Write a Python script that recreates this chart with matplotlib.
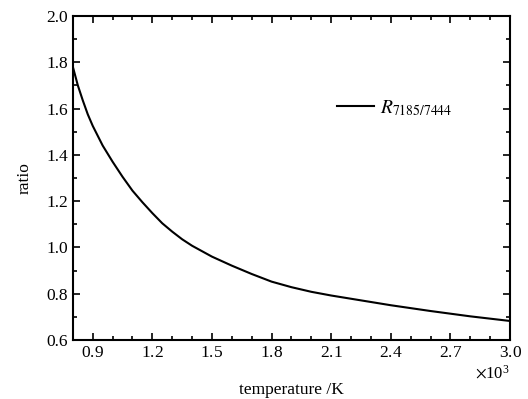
import matplotlib
matplotlib.use("Agg")
import matplotlib.pyplot as plt
from matplotlib.ticker import MultipleLocator, ScalarFormatter

plt.rcParams['font.family'] = ['Liberation Serif', 'DejaVu Serif']
plt.rcParams['mathtext.fontset'] = 'stix'

# values
temperature = [800, 825, 850, 875, 900, 950, 1000, 1050, 1100, 1150, 1200, 1250, 1300, 1350,
               1400, 1500, 1600, 1700, 1800, 1900, 2000, 2100, 2200, 2400, 2600, 2800, 3000]
ratio = [1.78, 1.70, 1.635, 1.575, 1.525, 1.44, 1.37, 1.305, 1.245, 1.195, 1.148, 1.104, 1.068, 1.035,
         1.007, 0.960, 0.921, 0.885, 0.852, 0.828, 0.808, 0.792, 0.778, 0.750, 0.725, 0.702, 0.682]
series_label = r'$R_{7185/7444}$'

fig = plt.figure(figsize=(5.28, 3.99), dpi=100)
ax = fig.add_axes([0.138, 0.148, 0.828, 0.812])

ax.plot(temperature, ratio, color='black', lw=1.5, label=series_label)

ax.set_xlim(800, 3000)
ax.set_ylim(0.6, 2.0)
ax.xaxis.set_major_locator(MultipleLocator(300))
ax.xaxis.set_minor_locator(MultipleLocator(100))
ax.yaxis.set_major_locator(MultipleLocator(0.2))
ax.yaxis.set_minor_locator(MultipleLocator(0.1))

fmt = ScalarFormatter(useMathText=True)
fmt.set_powerlimits((0, 0))
ax.xaxis.set_major_formatter(fmt)
ax.xaxis.get_offset_text().set_fontsize(12)

ax.tick_params(which='both', direction='in', top=True, right=True, labelsize=12.5, width=1.2)
ax.tick_params(which='major', length=5)
ax.tick_params(which='minor', length=3)
for sp in ax.spines.values():
    sp.set_linewidth(1.5)

ax.set_xlabel('temperature /K', fontsize=12.5, labelpad=15)
ax.set_ylabel('ratio', fontsize=12.5, labelpad=10)

ax.legend(loc='center left', bbox_to_anchor=(0.604, 0.716), frameon=False, fontsize=14,
          handlelength=1.9, handletextpad=0.3, borderpad=0, borderaxespad=0)

fig.savefig('out.png', dpi=100)
